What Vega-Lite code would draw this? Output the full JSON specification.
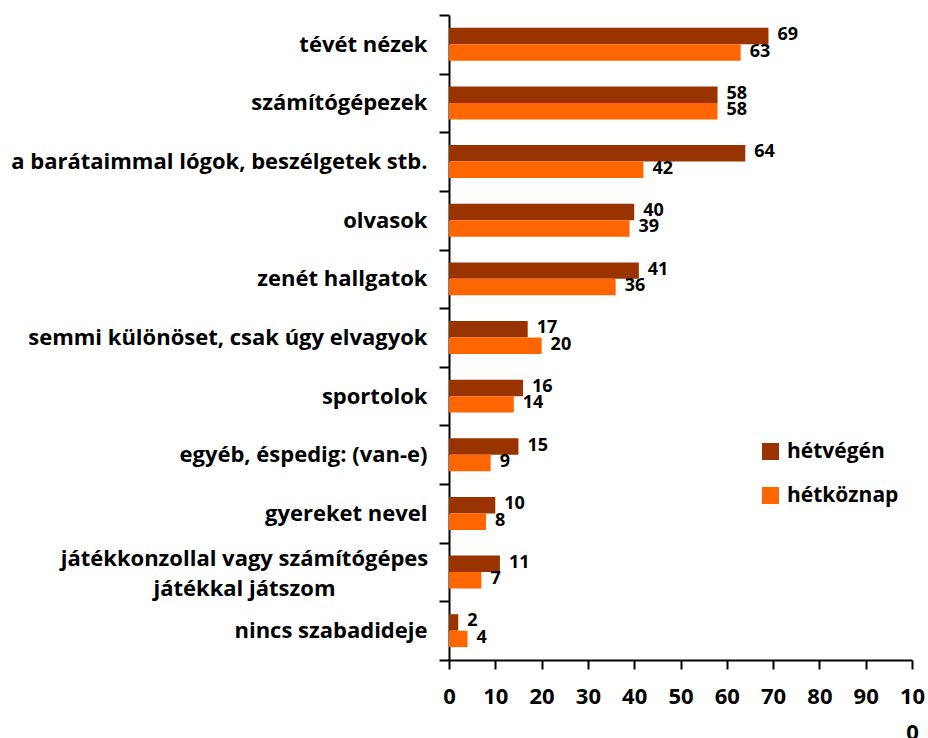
{
  "$schema": "https://vega.github.io/schema/vega-lite/v6.json",
  "width": 463,
  "height": 645,
  "autosize": {"type": "none"},
  "padding": {"left": 449, "top": 15, "right": 16, "bottom": 78},
  "background": "white",
  "config": {"view": {"stroke": null}, "font": "Open Sans"},
  "data": {
    "values": [
      {"activity": "tévét nézek", "series": "hétvégén", "value": 69},
      {"activity": "tévét nézek", "series": "hétköznap", "value": 63},
      {"activity": "számítógépezek", "series": "hétvégén", "value": 58},
      {"activity": "számítógépezek", "series": "hétköznap", "value": 58},
      {"activity": "a barátaimmal lógok, beszélgetek stb.", "series": "hétvégén", "value": 64},
      {"activity": "a barátaimmal lógok, beszélgetek stb.", "series": "hétköznap", "value": 42},
      {"activity": "olvasok", "series": "hétvégén", "value": 40},
      {"activity": "olvasok", "series": "hétköznap", "value": 39},
      {"activity": "zenét hallgatok", "series": "hétvégén", "value": 41},
      {"activity": "zenét hallgatok", "series": "hétköznap", "value": 36},
      {"activity": "semmi különöset, csak úgy elvagyok", "series": "hétvégén", "value": 17},
      {"activity": "semmi különöset, csak úgy elvagyok", "series": "hétköznap", "value": 20},
      {"activity": "sportolok", "series": "hétvégén", "value": 16},
      {"activity": "sportolok", "series": "hétköznap", "value": 14},
      {"activity": "egyéb, éspedig: (van-e)", "series": "hétvégén", "value": 15},
      {"activity": "egyéb, éspedig: (van-e)", "series": "hétköznap", "value": 9},
      {"activity": "gyereket nevel", "series": "hétvégén", "value": 10},
      {"activity": "gyereket nevel", "series": "hétköznap", "value": 8},
      {"activity": "játékkonzollal vagy számítógépes játékkal játszom", "series": "hétvégén", "value": 11},
      {"activity": "játékkonzollal vagy számítógépes játékkal játszom", "series": "hétköznap", "value": 7},
      {"activity": "nincs szabadideje", "series": "hétvégén", "value": 2},
      {"activity": "nincs szabadideje", "series": "hétköznap", "value": 4}
    ]
  },
  "encoding": {
    "y": {
      "field": "activity",
      "type": "nominal",
      "sort": null,
      "scale": {"paddingInner": 0, "paddingOuter": 0},
      "axis": {
        "title": null,
        "domainColor": "black",
        "domainWidth": 2,
        "tickColor": "black",
        "tickWidth": 2,
        "tickSize": 10,
        "tickBand": "extent",
        "labelFontSize": 22,
        "labelFontWeight": "bold",
        "labelColor": "black",
        "labelLimit": 0,
        "labelLineHeight": 30,
        "labelAlign": {"condition": {"test": "datum.value == 'játékkonzollal vagy számítógépes játékkal játszom'", "value": "center"}, "value": "right"},
        "labelPadding": {"condition": {"test": "datum.value == 'játékkonzollal vagy számítógépes játékkal játszom'", "value": 195}, "value": 12},
        "labelOffset": {"condition": {"test": "datum.value == 'játékkonzollal vagy számítógépes játékkal játszom'", "value": -14}, "value": 0},
        "labelExpr": "datum.value == 'játékkonzollal vagy számítógépes játékkal játszom' ? ['játékkonzollal vagy számítógépes', 'játékkal játszom'] : datum.value"
      }
    },
    "yOffset": {
      "field": "series",
      "type": "nominal",
      "sort": ["hétvégén", "hétköznap"],
      "scale": {"paddingOuter": 0.78, "paddingInner": 0}
    },
    "x": {
      "field": "value",
      "type": "quantitative",
      "scale": {"domain": [0, 100], "nice": false},
      "axis": {
        "title": null,
        "grid": false,
        "values": [0, 10, 20, 30, 40, 50, 60, 70, 80, 90, 100],
        "labelExpr": "datum.value == 100 ? ['10', '0'] : datum.label",
        "labelFontSize": 22,
        "labelFontWeight": "bold",
        "labelColor": "black",
        "labelFlush": false,
        "labelOverlap": false,
        "labelLineHeight": 36,
        "labelPadding": 17,
        "tickSize": 9,
        "tickWidth": 2,
        "tickColor": "black",
        "domainColor": "black",
        "domainWidth": 2
      }
    }
  },
  "layer": [
    {
      "mark": {"type": "bar"},
      "encoding": {
        "color": {
          "field": "series",
          "type": "nominal",
          "sort": ["hétvégén", "hétköznap"],
          "scale": {"domain": ["hétvégén", "hétköznap"], "range": ["#993300", "#FF6600"]},
          "legend": {
            "orient": "none",
            "legendX": 311,
            "legendY": 426,
            "title": null,
            "padding": 0,
            "symbolType": "square",
            "symbolSize": 289,
            "symbolStrokeWidth": 0,
            "symbolOpacity": 1,
            "labelFontSize": 21,
            "labelFontWeight": "bold",
            "labelColor": "black",
            "labelOffset": 6,
            "rowPadding": 22
          }
        }
      }
    },
    {
      "mark": {"type": "text", "align": "left", "baseline": "middle", "dx": 9, "dy": -1, "fontWeight": "bold", "fontSize": 18, "color": "black"},
      "encoding": {"text": {"field": "value", "type": "quantitative"}}
    }
  ]
}
